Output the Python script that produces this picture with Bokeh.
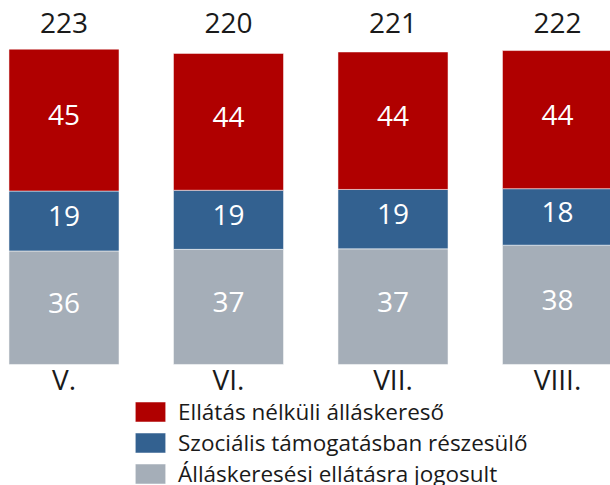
from bokeh.plotting import figure
from bokeh.models import ColumnDataSource, Range1d, Legend, LegendItem
from bokeh.core.properties import value
from bokeh.embed import file_html
from bokeh.resources import INLINE

# ---- data ----
categories = ["V.", "VI.", "VII.", "VIII."]
totals = [223, 220, 221, 222]
pct_no_benefit = [45, 44, 44, 44]      # Ellátás nélküli álláskereső
pct_social = [19, 19, 19, 18]          # Szociális támogatásban részesülő
pct_entitled = [36, 37, 37, 38]        # Álláskeresési ellátásra jogosult
series_names = ["Ellátás nélküli álláskereső",
                "Szociális támogatásban részesülő",
                "Álláskeresési ellátásra jogosult"]
colors = ["#B00000", "#336190", "#A5AEB8"]

FONT = "Open Sans"

xs = list(range(len(categories)))
seg_ent = [t * p / 100 for t, p in zip(totals, pct_entitled)]
seg_soc = [t * p / 100 for t, p in zip(totals, pct_social)]
seg_nob = [t * p / 100 for t, p in zip(totals, pct_no_benefit)]

src = ColumnDataSource(dict(x=xs, cat=categories, total=totals,
                            ent=seg_ent, soc=seg_soc, nob=seg_nob))

p = figure(width=610, height=485, output_backend="svg", toolbar_location=None,
           x_range=Range1d(-0.386, 3.3222), y_range=Range1d(-85.6, 257.4),
           min_border=0)
p.axis.visible = False
p.grid.visible = False
p.outline_line_color = None
p.background_fill_color = "white"
p.border_fill_color = "white"

rs = p.vbar_stack(["ent", "soc", "nob"], x="x", width=0.669, source=src,
                  color=[colors[2], colors[1], colors[0]],
                  line_color="white", line_alpha=0.5, line_width=1)

# segment labels
lab_x, lab_y, lab_t = [], [], []
for i in xs:
    b = 0
    for seg, pc in ((seg_ent, pct_entitled), (seg_soc, pct_social), (seg_nob, pct_no_benefit)):
        lab_x.append(i)
        lab_y.append(b + seg[i] / 2)
        lab_t.append(str(pc[i]))
        b += seg[i]
lsrc = ColumnDataSource(dict(x=lab_x, y=lab_y, t=lab_t))
p.text(x="x", y="y", text="t", source=lsrc, text_align="center",
       text_baseline="middle", text_color="white", y_offset=-5,
       text_font=value(FONT), text_font_size="28px")

# totals on top
tsrc = ColumnDataSource(dict(x=xs, y=[max(totals)] * len(xs), t=[str(t) for t in totals]))
p.text(x="x", y="y", text="t", source=tsrc, text_align="center",
       text_baseline="middle", text_color="#1a1a1a", y_offset=-26,
       text_font=value(FONT), text_font_size="28px")

# category labels
csrc = ColumnDataSource(dict(x=xs, y=[0] * len(xs), t=categories))
p.text(x="x", y="y", text="t", source=csrc, text_align="center",
       text_baseline="middle", text_color="#1a1a1a", y_offset=15,
       text_font=value(FONT), text_font_size="28px")

legend = Legend(items=[LegendItem(label=series_names[0], renderers=[rs[2]]),
                       LegendItem(label=series_names[1], renderers=[rs[1]]),
                       LegendItem(label=series_names[2], renderers=[rs[0]])],
                location=(131, -4), glyph_width=38, glyph_height=25,
                label_standoff=9, spacing=-10, padding=0, margin=0,
                border_line_color=None, background_fill_alpha=0,
                label_text_font=FONT, label_text_font_size="22.5px",
                label_text_color="#1a1a1a", label_height=24)
p.add_layout(legend, "center")

open("out.html", "w").write(file_html(p, INLINE))
